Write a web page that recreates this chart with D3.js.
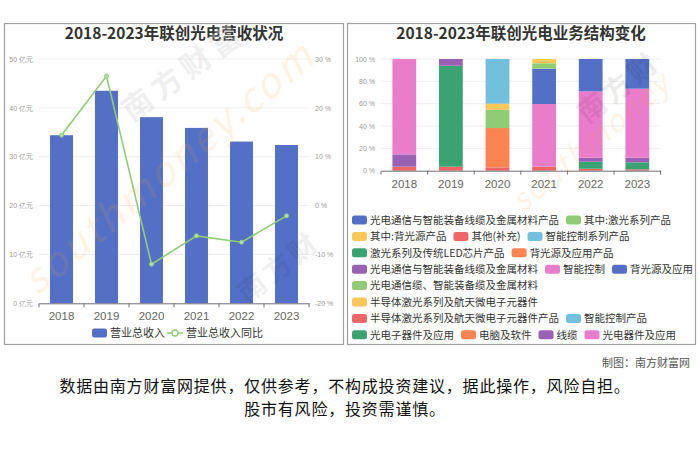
<!DOCTYPE html>
<html><head><meta charset="utf-8">
<script src="https://cdn.jsdelivr.net/npm/d3@7"></script>
<style>
body{margin:0;background:#fff;}
svg{display:block;font-family:"Noto Sans CJK SC","Noto Sans",sans-serif;}
</style>
</head><body>
<svg id="c" width="700" height="467"></svg>
<script>
// ---------------- data ----------------
const years = ["2018","2019","2020","2021","2022","2023"];
const revenue = [34.4, 43.5, 38.1, 35.9, 33.1, 32.4];          // 亿元
const revenueYoY = [14.4, 26.5, -12.0, -6.2, -7.5, -2.1];      // %
const revTicks = [0, 10, 20, 30, 40, 50];
const yoyTicks = [-20, -10, 0, 10, 20, 30];
const pctTicks = [0, 20, 40, 60, 80, 100];

const segmentNames = [
  "光电通信与智能装备线缆及金属材料产品", "其中:激光系列产品", "其中:背光源产品",
  "其他(补充)", "智能控制系列产品", "激光系列及传统LED芯片产品", "背光源及应用产品",
  "光电通信与智能装备线缆及金属材料", "智能控制", "背光源及应用",
  "光电通信缆、智能装备缆及金属材料", "半导体激光系列及航天微电子元器件",
  "半导体激光系列及航天微电子元器件产品", "智能控制产品", "光电子器件及应用",
  "电脑及软件", "线缆", "光电器件及应用"
];
// share (%) of each segment, per year 2018..2023
const segmentShares = [
  [0, 0, 0, 0, 0, 0],
  [0, 0, 0, 0, 0, 0],
  [0, 0, 0, 0, 0, 0],
  [3.6, 3.6, 3.0, 3.6, 1.8, 1.2],
  [0, 0, 0, 0, 0, 0],
  [0, 0, 0, 0, 6.2, 6.3],
  [0, 0, 35.2, 0, 0, 0],
  [0, 0, 0, 0, 3.6, 4.1],
  [0, 0, 0, 56.1, 59.4, 61.8],
  [0, 0, 0, 31.6, 29.0, 26.6],
  [0, 0, 16.4, 4.8, 0, 0],
  [0, 0, 5.4, 3.9, 0, 0],
  [0, 0, 0, 0, 0, 0],
  [0, 0, 40.0, 0, 0, 0],
  [0, 90.4, 0, 0, 0, 0],
  [0, 0, 0, 0, 0, 0],
  [11.0, 6.0, 0, 0, 0, 0],
  [85.4, 0, 0, 0, 0, 0]
];
const legendRowCounts = [2, 3, 2, 3, 1, 1, 2, 4];

const palette = ["#5470c6","#91cc75","#fac858","#ee6666","#73c0de","#3ba272","#fc8452","#9a60b4","#ea7ccc"];

// ---------------- drawing ----------------
const svg = d3.select("#c");
svg.append("rect").attr("width",700).attr("height",467).attr("fill","#fff");

function panel(x0, x1) {
  svg.append("rect").attr("x", x0 + 0.5).attr("y", 23.5).attr("width", x1 - x0).attr("height", 321)
    .attr("fill", "#fff").attr("stroke", "#a0a0a0").attr("stroke-width", 1.2);
}
panel(4, 343);
panel(347, 695);

const axisColor = "#6e7079";
const gridColor = "#eeeeee";

// ===== Left chart =====
const L = svg.append("g");
L.append("text").attr("x", 174).attr("y", 39).attr("text-anchor","middle")
  .attr("font-size", 15.5).attr("font-weight","bold").attr("fill","#333")
  .text("2018-2023年联创光电营收状况");

const xL = d3.scaleBand().domain(years).range([39, 309]);
const yL = d3.scaleLinear().domain([0, 50]).range([303.3, 59]);
const yR = d3.scaleLinear().domain([-20, 30]).range([303.3, 59]);

L.append("g").selectAll("line").data(revTicks.slice(1)).join("line")
  .attr("x1", 39).attr("x2", 309).attr("y1", d => yL(d)).attr("y2", d => yL(d))
  .attr("stroke", gridColor);

const gyl = L.append("g").attr("transform","translate(36,0)")
  .call(d3.axisLeft(yL).tickValues(revTicks).tickSize(0).tickFormat(d => d + " 亿元"));
gyl.select(".domain").remove();
gyl.selectAll("text").attr("font-size", 7).attr("fill", "#999").attr("font-family","inherit");

const gyr = L.append("g").attr("transform","translate(312,0)")
  .call(d3.axisRight(yR).tickValues(yoyTicks).tickSize(0).tickFormat(d => d + " %"));
gyr.select(".domain").remove();
gyr.selectAll("text").attr("font-size", 7).attr("fill", "#999").attr("font-family","inherit");

const barW = xL.bandwidth() * 0.51;
L.append("g").selectAll("rect").data(years).join("rect")
  .attr("x", (d) => xL(d) + xL.bandwidth()/2 - barW/2)
  .attr("width", barW)
  .attr("y", (d,i) => yL(revenue[i]))
  .attr("height", (d,i) => yL(0) - yL(revenue[i]))
  .attr("fill", palette[0]);

const gxl = L.append("g").attr("transform", `translate(0,${yL(0)})`)
  .call(d3.axisBottom(xL).tickSize(0).tickSizeOuter(0).tickPadding(9));
gxl.select(".domain").attr("stroke", axisColor);
gxl.selectAll("text").attr("font-size", 11.5).attr("fill", "#666").attr("font-family","inherit");
L.append("g").selectAll("line").data(years.concat(["end"])).join("line")
  .attr("x1", d => d === "end" ? 309 : xL(d)).attr("x2", d => d === "end" ? 309 : xL(d))
  .attr("y1", yL(0)).attr("y2", yL(0) + 4).attr("stroke", axisColor);

const line = d3.line().x((d,i) => xL(years[i]) + xL.bandwidth()/2).y(d => yR(d));
L.append("path").datum(revenueYoY).attr("d", line).attr("fill","none")
  .attr("stroke", palette[1]).attr("stroke-width", 1.6);
L.append("g").selectAll("circle").data(revenueYoY).join("circle")
  .attr("cx", (d,i) => xL(years[i]) + xL.bandwidth()/2).attr("cy", d => yR(d))
  .attr("r", 2).attr("fill", "#b8e0a0").attr("stroke", palette[1]).attr("stroke-width", 1);

const lg = L.append("g");
lg.append("rect").attr("x", 92).attr("y", 328.5).attr("width", 15).attr("height", 9).attr("rx", 2.5).attr("fill", palette[0]);
lg.append("text").attr("x", 110).attr("y", 337).attr("font-size", 11).attr("fill","#333").text("营业总收入");
lg.append("line").attr("x1", 167).attr("x2", 183).attr("y1", 333).attr("y2", 333).attr("stroke", palette[1]).attr("stroke-width", 1.6);
lg.append("circle").attr("cx", 175).attr("cy", 333).attr("r", 3).attr("fill", "#fff").attr("stroke", palette[1]).attr("stroke-width", 1.4);
lg.append("text").attr("x", 186).attr("y", 337).attr("font-size", 11).attr("fill","#333").text("营业总收入同比");

// ===== Right chart =====
const R = svg.append("g");
R.append("text").attr("x", 521).attr("y", 39).attr("text-anchor","middle")
  .attr("font-size", 15.5).attr("font-weight","bold").attr("fill","#333")
  .text("2018-2023年联创光电业务结构变化");

const xP = d3.scaleBand().domain(years).range([381, 660.6]);
const yP = d3.scaleLinear().domain([0, 100]).range([170.7, 59]);

R.append("g").selectAll("line").data(pctTicks.slice(1)).join("line")
  .attr("x1", 381).attr("x2", 660.6).attr("y1", d => yP(d)).attr("y2", d => yP(d))
  .attr("stroke", gridColor);

const gyp = R.append("g").attr("transform","translate(378,0)")
  .call(d3.axisLeft(yP).tickValues(pctTicks).tickSize(0).tickFormat(d => d + " %"));
gyp.select(".domain").remove();
gyp.selectAll("text").attr("font-size", 7).attr("fill", "#999").attr("font-family","inherit");

const table = years.map((y, j) => {
  const row = { year: y };
  segmentNames.forEach((n, k) => row[k] = segmentShares[k][j]);
  return row;
});
const keys = segmentNames.map((n, k) => k);
const stacked = d3.stack().keys(keys)(table);
const barWP = xP.bandwidth() * 0.51;
R.append("g").selectAll("g").data(stacked).join("g")
  .attr("fill", (s) => palette[s.key % palette.length])
  .selectAll("rect").data(s => s.filter(d => d[1] - d[0] > 0)).join("rect")
  .attr("x", d => xP(d.data.year) + xP.bandwidth()/2 - barWP/2)
  .attr("width", barWP)
  .attr("y", d => yP(d[1]))
  .attr("height", d => yP(d[0]) - yP(d[1]));

const gxp = R.append("g").attr("transform", `translate(0,${yP(0)})`)
  .call(d3.axisBottom(xP).tickSize(0).tickSizeOuter(0).tickPadding(9));
gxp.select(".domain").attr("stroke", axisColor);
gxp.selectAll("text").attr("font-size", 11.5).attr("fill", "#666").attr("font-family","inherit");
R.append("g").selectAll("line").data(years.concat(["end"])).join("line")
  .attr("x1", d => d === "end" ? 660.6 : xP(d)).attr("x2", d => d === "end" ? 660.6 : xP(d))
  .attr("y1", yP(0)).attr("y2", yP(0) + 4).attr("stroke", axisColor);

const legG = R.append("g");
let idx = 0;
legendRowCounts.forEach((cnt, r) => {
  let x = 352;
  const yc = 220 + r * 16.4;
  for (let c = 0; c < cnt; c++, idx++) {
    legG.append("rect").attr("x", x).attr("y", yc - 4.5).attr("width", 15).attr("height", 9)
      .attr("rx", 2.5).attr("fill", palette[idx % palette.length]);
    const t = legG.append("text").attr("x", x + 18).attr("y", yc + 3.8)
      .attr("font-size", 10.5).attr("fill", "#333").text(segmentNames[idx]);
    x += 18 + t.node().getComputedTextLength() + 7;
  }
});

// ===== watermarks (faint, over the marks as in the source) =====
const wm = svg.append("g").attr("pointer-events","none");
function wmText(x, y, rot, txt, size, fill, op, italic, bold, ls) {
  wm.append("text").attr("transform", `translate(${x},${y}) rotate(${rot})`)
    .attr("text-anchor","middle").attr("font-size", size).attr("fill", fill)
    .attr("opacity", op).attr("font-style", italic ? "italic" : "normal")
    .attr("letter-spacing", ls || 0)
    .attr("font-weight", bold ? "bold" : "normal").text(txt);
}
wmText(178, 178, -40, "southmoney.com", 40, "#f5a623", 0.12, true, false, 3);
wmText(190, 80, -36, "南方财富", 30, "#fff", 0.35, false, true, 6);
wmText(190, 80, -36, "南方财富", 30, "#000", 0.06, false, true, 6);
wmText(285, 275, -38, "南方财", 28, "#000", 0.06, false, true, 4);
wmText(598, 150, -40, "southmoney", 30, "#f5a623", 0.11, true, false, 2);
wmText(625, 95, -38, "南方财", 28, "#000", 0.07, false, true, 4);

// ===== footer =====
svg.append("text").attr("x", 690).attr("y", 367).attr("text-anchor","end")
  .attr("font-size", 11).attr("fill","#555").text("制图：南方财富网");
svg.append("text").attr("x", 345).attr("y", 392).attr("text-anchor","middle")
  .attr("font-size", 16).attr("letter-spacing", 0.8).attr("fill","#111")
  .text("数据由南方财富网提供，仅供参考，不构成投资建议，据此操作，风险自担。");
svg.append("text").attr("x", 345).attr("y", 415).attr("text-anchor","middle")
  .attr("font-size", 16).attr("letter-spacing", 0.8).attr("fill","#111")
  .text("股市有风险，投资需谨慎。");
</script>
</body></html>
